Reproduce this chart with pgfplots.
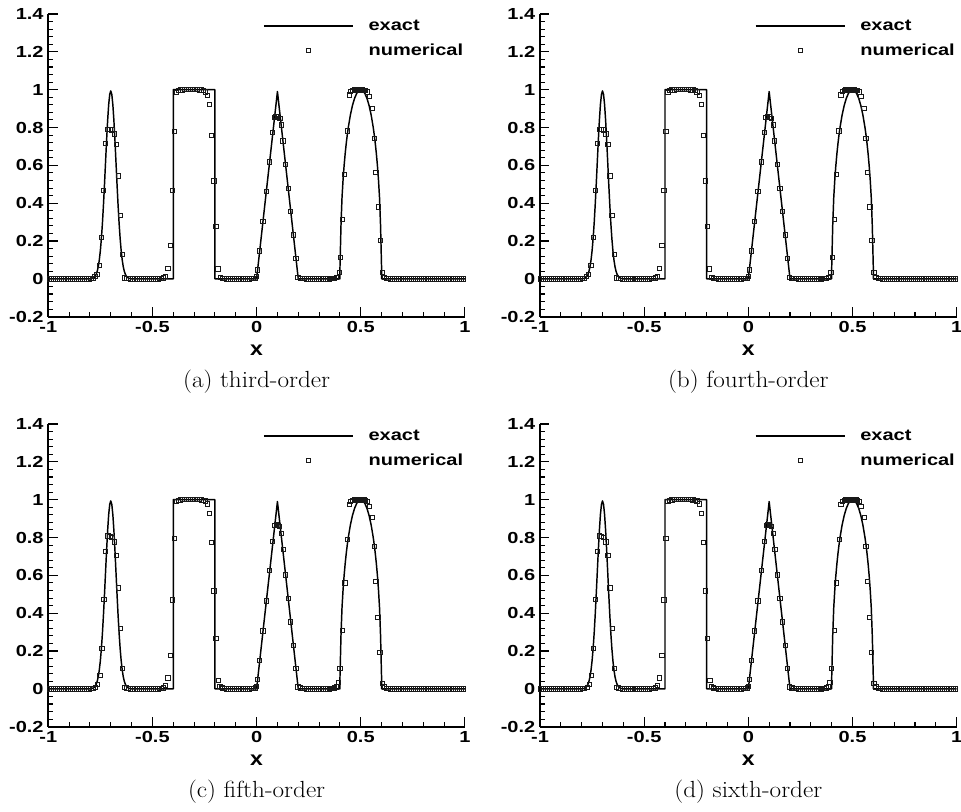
\documentclass[border=0pt]{standalone}
\usepackage{fontspec}
\usepackage{graphicx}
\usepackage{pgfplots}
\usepackage{pgfplotstable}
\pgfplotsset{compat=1.18}
\newfontfamily\lsans{Liberation Sans}
\newcommand{\tl}[1]{\scalebox{1.25}[1]{\lsans\bfseries\fontsize{12}{14}\selectfont #1}}
\newcommand{\capt}[1]{\scalebox{1.08}[1]{\fontsize{17.5}{20}\selectfont #1}}

\pgfplotstableread{
x y
-1 0
-0.8 0
-0.795 0.001
-0.79 0.002
-0.785 0.004
-0.78 0.0076
-0.775 0.0138
-0.77 0.024
-0.765 0.040
-0.76 0.0643
-0.755 0.0996
-0.75 0.1485
-0.745 0.213
-0.74 0.2943
-0.735 0.3915
-0.73 0.5012
-0.725 0.6178
-0.72 0.7331
-0.715 0.8374
-0.71 0.9209
-0.705 0.9749
-0.7 0.9936
-0.695 0.9749
-0.69 0.9209
-0.685 0.8374
-0.68 0.7331
-0.675 0.6178
-0.67 0.5012
-0.665 0.3915
-0.66 0.2943
-0.655 0.213
-0.65 0.1485
-0.645 0.0996
-0.64 0.0643
-0.635 0.040
-0.63 0.024
-0.625 0.0138
-0.62 0.0076
-0.615 0.004
-0.61 0.002
-0.605 0.001
-0.6 0
-0.4 0
-0.4 1
-0.2 1
-0.2 0
0 0
0.1 0.99
0.2 0
0.4 0
0.4 0.052
0.405 0.2808
0.41 0.4304
0.415 0.5239
0.42 0.598
0.425 0.66
0.43 0.713
0.435 0.759
0.44 0.7992
0.45 0.8654
0.46 0.916
0.47 0.9534
0.48 0.9794
0.49 0.9946
0.5 0.9996
0.51 0.9946
0.52 0.9794
0.53 0.9534
0.54 0.916
0.55 0.8654
0.56 0.7992
0.565 0.759
0.57 0.713
0.575 0.66
0.58 0.598
0.585 0.5239
0.59 0.4304
0.595 0.2808
0.6 0.052
0.6 0
1 0
}\exact

\pgfplotstableread{
x y
-0.995 0
-0.985 0
-0.975 0
-0.965 0
-0.955 0
-0.945 0
-0.935 0
-0.925 0
-0.915 0
-0.905 0
-0.895 0
-0.885 0
-0.875 0
-0.865 0
-0.855 0
-0.845 0
-0.835 0
-0.825 0
-0.815 0
-0.805 0
-0.795 0.001
-0.614 0.001
-0.604 0
-0.594 0
-0.584 0
-0.574 0
-0.564 0
-0.554 0
-0.544 0
-0.534 0
-0.524 0
-0.514 0
-0.504 0
-0.494 0
-0.484 0
-0.474 0
-0.465 0.001
-0.456 0.002
-0.165 0.003
-0.155 0.001
-0.145 0
-0.135 0
-0.125 0
-0.115 0
-0.105 0
-0.095 0
-0.085 0
-0.075 0
-0.065 0
-0.055 0
-0.045 0
-0.035 0
-0.025 0.001
-0.015 0.002
0.219 0.002
0.229 0.001
0.239 0
0.249 0
0.259 0
0.269 0
0.279 0
0.289 0
0.299 0
0.309 0
0.319 0
0.329 0
0.339 0
0.349 0
0.357 0.001
0.366 0.002
0.623 0.002
0.633 0.001
0.643 0
0.653 0
0.663 0
0.673 0
0.683 0
0.693 0
0.703 0
0.713 0
0.723 0
0.733 0
0.743 0
0.753 0
0.763 0
0.773 0
0.783 0
0.793 0
0.803 0
0.813 0
0.823 0
0.833 0
0.843 0
0.853 0
0.863 0
0.873 0
0.883 0
0.893 0
0.903 0
0.913 0
0.923 0
0.933 0
0.943 0
0.953 0
0.963 0
0.973 0
0.983 0
0.993 0
}\zeros

\pgfplotstableread{
x y
-0.785 0.003
-0.776 0.012
-0.766 0.023
-0.756 0.070
-0.745 0.218
-0.734 0.468
-0.724 0.717
-0.714 0.791
-0.704 0.791
-0.694 0.787
-0.684 0.766
-0.674 0.710
-0.664 0.544
-0.654 0.335
-0.644 0.127
-0.634 0.004
-0.624 0.002
-0.446 0.004
-0.436 0.014
-0.425 0.055
-0.414 0.178
-0.405 0.467
-0.395 0.780
-0.386 0.985
-0.376 0.995
-0.366 0.998
-0.356 0.999
-0.346 1
-0.336 1
-0.326 1
-0.316 1
-0.306 1
-0.296 1
-0.286 1
-0.276 0.999
-0.266 0.998
-0.256 0.995
-0.246 0.988
-0.236 0.970
-0.226 0.920
-0.216 0.757
-0.205 0.517
-0.195 0.276
-0.185 0.052
-0.175 0.006
-0.005 0.003
0.001 0.012
0.005 0.047
0.015 0.148
0.030 0.305
0.046 0.461
0.062 0.618
0.077 0.775
0.085 0.855
0.093 0.857
0.101 0.856
0.112 0.848
0.120 0.814
0.127 0.729
0.140 0.604
0.152 0.479
0.164 0.356
0.177 0.232
0.189 0.107
0.199 0.008
0.209 0.003
0.375 0.003
0.385 0.008
0.396 0.035
0.403 0.114
0.412 0.315
0.422 0.550
0.435 0.782
0.444 0.972
0.452 0.991
0.460 0.996
0.468 0.998
0.476 0.998
0.484 0.999
0.492 0.999
0.500 0.999
0.508 0.998
0.516 0.997
0.524 0.994
0.532 0.988
0.541 0.963
0.555 0.902
0.565 0.743
0.573 0.563
0.584 0.380
0.594 0.201
0.603 0.035
0.613 0.006
}\numA

\pgfplotstableread{
x y
-0.785 0.003
-0.773 0.009
-0.763 0.023
-0.752 0.071
-0.742 0.212
-0.733 0.474
-0.724 0.725
-0.714 0.808
-0.704 0.806
-0.694 0.800
-0.684 0.776
-0.674 0.705
-0.664 0.533
-0.653 0.319
-0.643 0.106
-0.633 0.009
-0.623 0.004
-0.446 0.004
-0.436 0.016
-0.425 0.058
-0.414 0.177
-0.405 0.470
-0.395 0.795
-0.386 0.990
-0.376 0.997
-0.366 0.999
-0.356 1
-0.346 1
-0.336 1
-0.326 1
-0.316 1
-0.306 1
-0.296 1
-0.286 1
-0.276 1
-0.266 0.999
-0.256 0.997
-0.246 0.993
-0.236 0.978
-0.226 0.928
-0.216 0.775
-0.2045 0.518
-0.195 0.265
-0.184 0.044
-0.176 0.014
-0.166 0.006
-0.005 0.004
0.001 0.013
0.005 0.049
0.015 0.150
0.0305 0.306
0.046 0.465
0.062 0.625
0.077 0.780
0.086 0.864
0.094 0.866
0.102 0.865
0.111 0.858
0.120 0.822
0.128 0.735
0.1395 0.602
0.152 0.478
0.164 0.354
0.177 0.230
0.189 0.106
0.199 0.010
0.209 0.004
0.375 0.004
0.384 0.010
0.392 0.035
0.400 0.108
0.412 0.310
0.424 0.559
0.436 0.790
0.444 0.975
0.452 0.992
0.460 0.996
0.468 0.998
0.476 0.999
0.484 0.999
0.492 0.999
0.500 0.999
0.508 0.999
0.516 0.998
0.524 0.995
0.532 0.990
0.541 0.966
0.556 0.905
0.565 0.752
0.573 0.568
0.583 0.377
0.5925 0.191
0.6035 0.028
0.613 0.010
}\numC

\pgfplotsset{panel/.style={
  width=312.5pt, height=227pt, scale only axis,
  xmin=-1, xmax=1, ymin=-0.2, ymax=1.4,
  axis x line*=bottom, axis y line*=left,
  x axis line style={-, line width=1.4pt},
  y axis line style={-, line width=1.4pt},
  xtick={-1,-0.5,0,0.5,1},
  ytick={-0.2,0,0.2,0.4,0.6,0.8,1,1.2,1.4},
  minor x tick num=4, minor y tick num=4,
  tick align=inside,
  major tick length=7pt, minor tick length=3.5pt,
  every tick/.style={black, line width=0.8pt},
  xticklabel={\tl{\pgfmathprintnumber[assume math mode=true]{\tick}}},
  yticklabel={\tl{\pgfmathprintnumber[assume math mode=true]{\tick}}},
  xlabel={\scalebox{1.15}[1]{\lsans\bfseries\fontsize{15}{17}\selectfont x}},
  xlabel style={at={(axis description cs:0.5,0)}, anchor=center, yshift=-25pt},
  clip=false,
  legend style={at={(axis description cs:0.515,0.982)}, anchor=north west,
    draw=none, fill=none, inner sep=0pt, row sep=8.5pt, column sep=11pt,
    nodes={inner sep=0pt}},
  legend cell align=left,
}}
\pgfplotsset{
  exactline/.style={black, line width=1.1pt, line join=round,
    legend image code/.code={\draw[##1] (0pt,0pt) -- (67pt,0pt);}},
  nummarks/.style={only marks, mark=square, mark size=1.6pt,
    mark options={line width=0.7pt, draw=black!90, fill=none},
    legend image code/.code={\draw[##1] plot coordinates {(33.5pt,0pt)}; \path (0pt,-1pt) (67pt,1pt);}},
}

\begin{document}
\begin{tikzpicture}
\useasboundingbox (0,0) rectangle (720.75pt,-608.25pt);

\begin{axis}[panel, at={(36.2pt,-237.5pt)}, anchor=south west]
\addplot[exactline] table {\exact};
\addlegendentry{\tl{exact}}
\addplot[nummarks] table {\numA};
\addlegendentry{\tl{numerical}}
\addplot[nummarks, forget plot] table {\zeros};
\node at (axis description cs:0.5,-0.216) {\capt{(a) third-order}};
\end{axis}

\begin{axis}[panel, at={(405pt,-237.5pt)}, anchor=south west]
\addplot[exactline] table {\exact};
\addlegendentry{\tl{exact}}
\addplot[nummarks] table {\numA};
\addlegendentry{\tl{numerical}}
\addplot[nummarks, forget plot] table {\zeros};
\node at (axis description cs:0.5,-0.216) {\capt{(b) fourth-order}};
\end{axis}

\begin{axis}[panel, at={(36.2pt,-545pt)}, anchor=south west]
\addplot[exactline] table {\exact};
\addlegendentry{\tl{exact}}
\addplot[nummarks] table {\numC};
\addlegendentry{\tl{numerical}}
\addplot[nummarks, forget plot] table {\zeros};
\node at (axis description cs:0.5,-0.216) {\capt{(c) fifth-order}};
\end{axis}

\begin{axis}[panel, at={(405pt,-545pt)}, anchor=south west]
\addplot[exactline] table {\exact};
\addlegendentry{\tl{exact}}
\addplot[nummarks] table {\numC};
\addlegendentry{\tl{numerical}}
\addplot[nummarks, forget plot] table {\zeros};
\node at (axis description cs:0.5,-0.216) {\capt{(d) sixth-order}};
\end{axis}
\end{tikzpicture}
\end{document}
